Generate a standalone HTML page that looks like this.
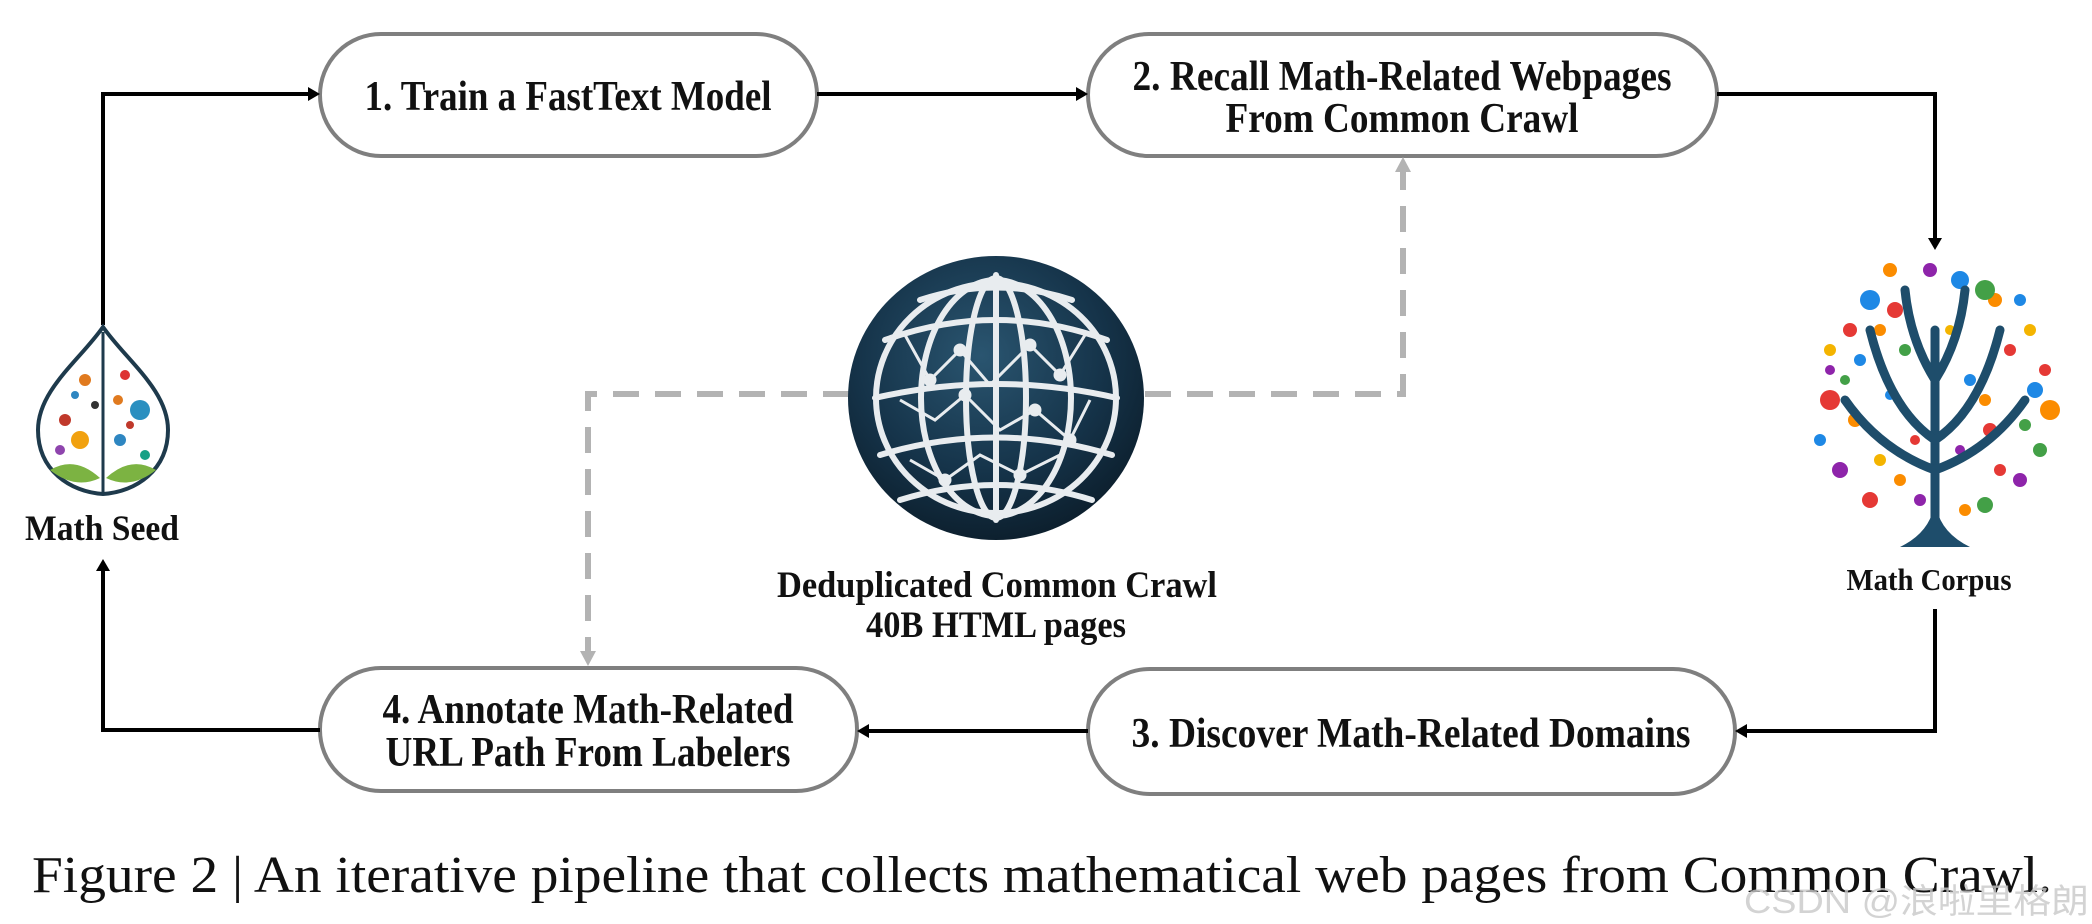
<!DOCTYPE html>
<html><head><meta charset="utf-8"><style>
html,body{margin:0;padding:0;background:#fff;}
svg{display:block;}
.b{font-family:"Liberation Serif",serif;font-weight:bold;fill:#111;}
</style></head><body>
<svg width="2092" height="924" viewBox="0 0 2092 924" xmlns="http://www.w3.org/2000/svg">
<defs>
<radialGradient id="gl" cx="0.45" cy="0.35" r="0.7"><stop offset="0" stop-color="#2a5570"/><stop offset="0.6" stop-color="#153349"/><stop offset="1" stop-color="#0b1c29"/></radialGradient>
</defs>
<g fill="#fff" stroke="#7f7f7f" stroke-width="4">
<rect x="320" y="34" width="497" height="122" rx="61"/>
<rect x="1088" y="34" width="629" height="122" rx="61"/>
<rect x="1088" y="669" width="647" height="125" rx="62"/>
<rect x="320" y="668" width="537" height="123" rx="61"/>
</g>
<g stroke="#000" stroke-width="4" fill="none">
<path d="M103,325 V94 H312"/>
<path d="M817,94 H1080"/>
<path d="M1717,94 H1935 V240"/>
<path d="M1935,609 V731 H1743"/>
<path d="M1088,731 H865"/>
<path d="M320,730 H103 V569"/>
</g>
<g fill="#000">
<path d="M320,94 l-12,-7 v14z"/>
<path d="M1088,94 l-12,-7 v14z"/>
<path d="M1935,250 l-7,-12 h14z"/>
<path d="M1735,731 l12,-7 v14z"/>
<path d="M857,731 l12,-7 v14z"/>
<path d="M103,559 l-7,12 h14z"/>
</g>
<g stroke="#b3b3b3" stroke-width="6" fill="none" stroke-dasharray="26,16">
<path d="M849,394 H588 V652"/>
<path d="M1145,394 H1403 V172"/>
</g>
<g fill="#b3b3b3">
<path d="M588,666 l-8,-15 h16z"/>
<path d="M1403,157 l-8,15 h16z"/>
</g>
<ellipse cx="996" cy="398" rx="148" ry="142" fill="url(#gl)"/>
<g stroke="#e8ecef" stroke-width="6" fill="none" stroke-linecap="round">
<ellipse cx="996" cy="398" rx="120" ry="115"/>
<ellipse cx="996" cy="398" rx="75" ry="118"/>
<ellipse cx="996" cy="398" rx="30" ry="120"/>
<line x1="996" y1="275" x2="996" y2="520"/>
<path d="M885,340 Q996,300 1107,340"/>
<path d="M875,398 Q996,370 1117,398"/>
<path d="M880,455 Q996,420 1112,455"/>
<path d="M900,500 Q996,470 1092,500"/>
<path d="M920,300 Q996,275 1072,300"/>
</g>
<g stroke="#e8ecef" stroke-width="3" fill="#e8ecef">
<path d="M905,335 L930,380 L960,350 L990,385 L1030,345 L1060,375 L1085,335" fill="none"/>
<path d="M900,400 L935,420 L965,395 L1000,430 L1035,410 L1070,440 L1090,400" fill="none"/>
<path d="M910,460 L945,480 L980,455 L1020,475 L1060,455" fill="none"/>
<circle cx="930" cy="380" r="5"/><circle cx="960" cy="350" r="5"/><circle cx="1030" cy="345" r="5"/><circle cx="1035" cy="410" r="5"/><circle cx="965" cy="395" r="5"/><circle cx="1070" cy="440" r="5"/><circle cx="945" cy="480" r="5"/><circle cx="1020" cy="475" r="5"/><circle cx="1060" cy="375" r="5"/>
</g>
<path d="M103,327 C80,360 38,390 38,430 C38,470 70,492 103,494 C136,492 168,470 168,430 C168,390 126,360 103,327z" fill="#fff" stroke="#1e3a4c" stroke-width="4"/>
<line x1="103" y1="332" x2="103" y2="492" stroke="#1e3a4c" stroke-width="3"/>
<g>
<circle cx="85" cy="380" r="6" fill="#e07a1f"/><circle cx="125" cy="375" r="5" fill="#d33"/><circle cx="140" cy="410" r="10" fill="#2a8fc0"/>
<circle cx="65" cy="420" r="6" fill="#c0392b"/><circle cx="80" cy="440" r="9" fill="#f1a10f"/><circle cx="120" cy="440" r="6" fill="#2e86c1"/>
<circle cx="60" cy="450" r="5" fill="#8e44ad"/><circle cx="145" cy="455" r="5" fill="#16a085"/><circle cx="95" cy="405" r="4" fill="#333"/>
<circle cx="75" cy="395" r="4" fill="#2e86c1"/><circle cx="118" cy="400" r="5" fill="#e07a1f"/><circle cx="130" cy="425" r="4" fill="#c0392b"/>
<path d="M50,470 Q75,455 100,478 Q75,490 50,470z" fill="#7cb342"/><path d="M156,470 Q131,455 106,478 Q131,490 156,470z" fill="#7cb342"/>
</g>
<g>
<g fill="#e53935"><circle cx="1830" cy="400" r="10"/><circle cx="1990" cy="430" r="7"/><circle cx="1895" cy="310" r="8"/><circle cx="2010" cy="350" r="6"/><circle cx="1870" cy="500" r="8"/><circle cx="1850" cy="330" r="7"/><circle cx="2045" cy="370" r="6"/><circle cx="1915" cy="440" r="5"/><circle cx="2000" cy="470" r="6"/></g>
<g fill="#1e88e5"><circle cx="1870" cy="300" r="10"/><circle cx="1960" cy="280" r="9"/><circle cx="2035" cy="390" r="8"/><circle cx="1820" cy="440" r="6"/><circle cx="1860" cy="360" r="6"/><circle cx="1970" cy="380" r="6"/><circle cx="1890" cy="395" r="5"/><circle cx="2020" cy="300" r="6"/></g>
<g fill="#fb8c00"><circle cx="1890" cy="270" r="7"/><circle cx="2050" cy="410" r="10"/><circle cx="1995" cy="300" r="7"/><circle cx="1855" cy="420" r="7"/><circle cx="1965" cy="510" r="6"/><circle cx="1880" cy="330" r="6"/><circle cx="1985" cy="400" r="6"/><circle cx="1900" cy="480" r="6"/></g>
<g fill="#43a047"><circle cx="1985" cy="290" r="10"/><circle cx="2040" cy="450" r="7"/><circle cx="1985" cy="505" r="8"/><circle cx="1905" cy="350" r="6"/><circle cx="2025" cy="425" r="6"/><circle cx="1845" cy="380" r="5"/></g>
<g fill="#8e24aa"><circle cx="1930" cy="270" r="7"/><circle cx="1840" cy="470" r="8"/><circle cx="1920" cy="500" r="6"/><circle cx="2020" cy="480" r="7"/><circle cx="1960" cy="450" r="5"/><circle cx="1830" cy="370" r="5"/></g>
<g fill="#f4b400"><circle cx="1830" cy="350" r="6"/><circle cx="2030" cy="330" r="6"/><circle cx="1880" cy="460" r="6"/><circle cx="1950" cy="330" r="5"/></g>
<g stroke="#1e4d6b" stroke-width="9" fill="none" stroke-linecap="round">
<path d="M1935,540 V330"/><path d="M1935,440 Q1890,410 1870,330"/><path d="M1935,440 Q1980,410 2000,330"/>
<path d="M1935,470 Q1880,450 1845,400"/><path d="M1935,470 Q1990,450 2025,400"/>
<path d="M1935,380 Q1910,340 1905,290"/><path d="M1935,380 Q1960,340 1965,290"/>
</g>
<path d="M1900,547 Q1935,530 1935,495 Q1935,530 1970,547z" fill="#1e4d6b"/>
</g>
<text class="b" x="568" y="110" font-size="42" text-anchor="middle" textLength="407" lengthAdjust="spacingAndGlyphs">1. Train a FastText Model</text>
<text class="b" x="1402" y="90" font-size="42" text-anchor="middle" textLength="539" lengthAdjust="spacingAndGlyphs">2. Recall Math-Related Webpages</text>
<text class="b" x="1402" y="132" font-size="42" text-anchor="middle" textLength="353" lengthAdjust="spacingAndGlyphs">From Common Crawl</text>
<text class="b" x="1411" y="747" font-size="42" text-anchor="middle" textLength="559" lengthAdjust="spacingAndGlyphs">3. Discover Math-Related Domains</text>
<text class="b" x="588" y="723" font-size="42" text-anchor="middle" textLength="411" lengthAdjust="spacingAndGlyphs">4. Annotate Math-Related</text>
<text class="b" x="588" y="766" font-size="42" text-anchor="middle" textLength="405" lengthAdjust="spacingAndGlyphs">URL Path From Labelers</text>
<text class="b" x="102" y="540" font-size="36" text-anchor="middle" textLength="154" lengthAdjust="spacingAndGlyphs">Math Seed</text>
<text class="b" x="1929" y="590" font-size="31" text-anchor="middle" textLength="165" lengthAdjust="spacingAndGlyphs">Math Corpus</text>
<text class="b" x="997" y="597" font-size="37" text-anchor="middle" textLength="440" lengthAdjust="spacingAndGlyphs">Deduplicated Common Crawl</text>
<text class="b" x="996" y="637" font-size="37" text-anchor="middle" textLength="260" lengthAdjust="spacingAndGlyphs">40B HTML pages</text>
<text x="32" y="892" font-family="Liberation Serif,serif" font-size="52" fill="#111" textLength="2020" lengthAdjust="spacingAndGlyphs">Figure 2 | An iterative pipeline that collects mathematical web pages from Common Crawl.</text>
<text x="1744" y="913" font-family="Liberation Sans,'Noto Sans CJK SC',sans-serif" font-size="34" fill="#c8c8c8" fill-opacity="0.8" textLength="345" lengthAdjust="spacingAndGlyphs">CSDN @浪啦里格朗</text>
</svg>
</body></html>
